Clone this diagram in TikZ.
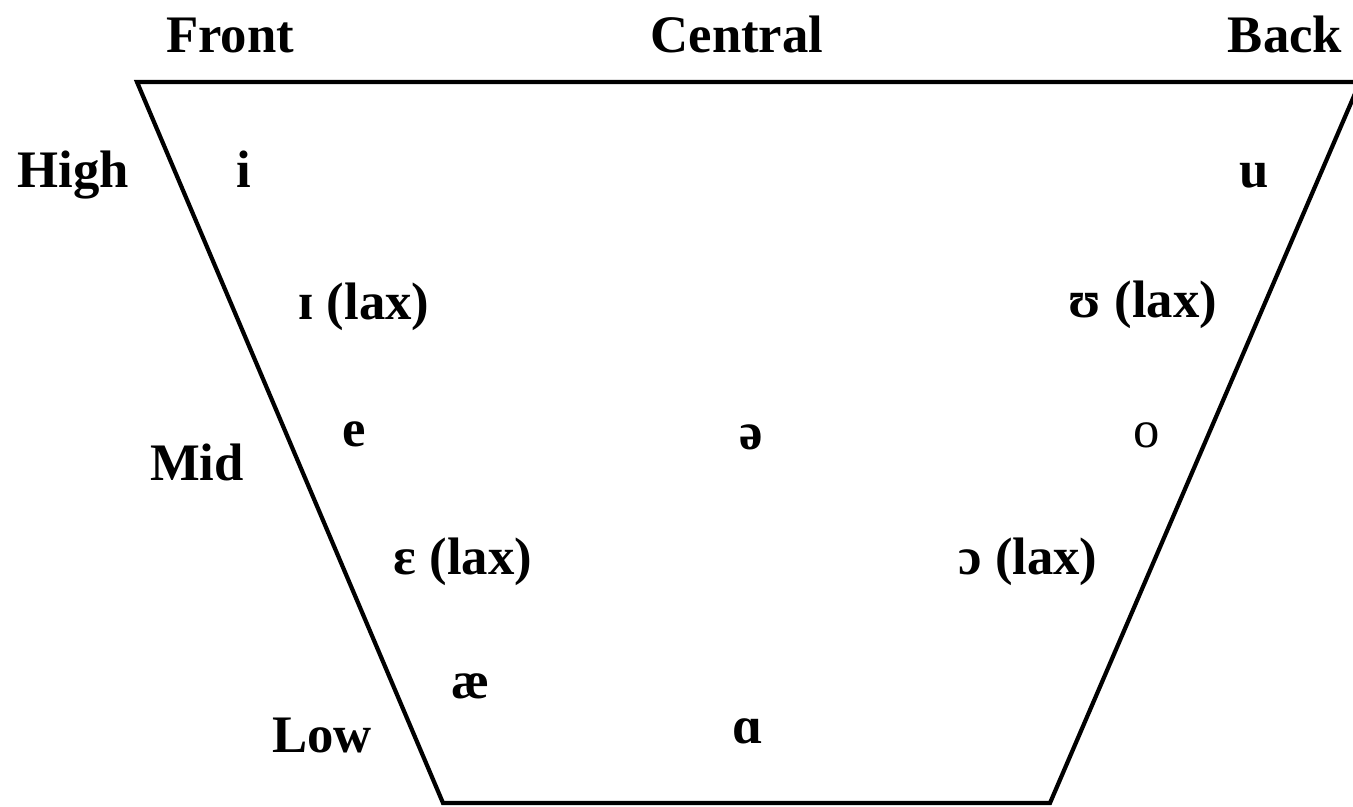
\documentclass[tikz,border=0pt]{standalone}
\usepackage{fontspec}
\setmainfont{Liberation Serif}
\begin{document}
\begin{tikzpicture}[x=0.02cm,y=-0.02cm,
  lbl/.style={anchor=base,inner sep=0pt,font=\fontsize{30}{36}\selectfont\bfseries},
  edge/.style={line width=2.4pt,line join=miter}]
\useasboundingbox (0,0) rectangle (1353,807);
\clip (0,0) rectangle (1353,807);
% corners of the vowel trapezoid
\coordinate (tl) at (137,82);
\coordinate (tr) at (1360,82);
\coordinate (br) at (1050,803);
\coordinate (bl) at (443,803);
\draw[edge] (tl) -- (tr) -- (br) -- (bl) -- cycle;
% column labels
\node[lbl] (front) at (230,53) {Front};
\node[lbl] (central) at (737,53) {Central};
\node[lbl] (back) at (1285,53) {Back};
% row labels
\node[lbl] (high) at (73,188) {High};
\node[lbl] (mid) at (197,480) {Mid};
\node[lbl] (low) at (322,752) {Low};
% vowels
\node[lbl] (vi) at (244,188) {i};
\node[lbl] (vu) at (1254,188) {u};
\node[lbl] (vI) at (364,320) {ɪ (lax)};
\node[lbl] (vU) at (1143,318) {ʊ (lax)};
\node[lbl] (ve) at (354,447) {e};
\node[lbl] (vschwa) at (751,450) {ə};
\node[lbl,font=\fontsize{30}{36}\selectfont] (vo) at (1147,448) {o};
\node[lbl] (vE) at (463,575) {ɛ (lax)};
\node[lbl] (vO) at (1028,575) {ɔ (lax)};
\node[lbl] (vae) at (471,698) {æ};
\node[lbl] (va) at (748,743) {ɑ};
\end{tikzpicture}
\end{document}
